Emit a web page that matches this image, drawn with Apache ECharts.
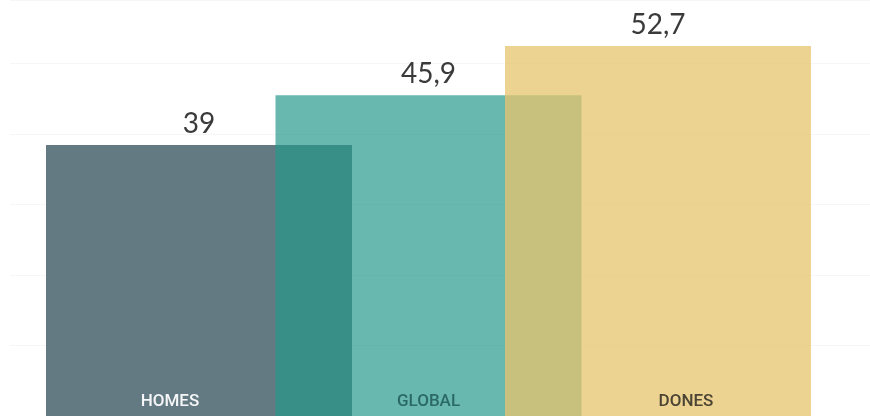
<!DOCTYPE html>
<html>
<head>
<meta charset="utf-8">
<script src="https://cdn.jsdelivr.net/npm/echarts@6/dist/echarts.min.js"></script>
<style>
  html, body { margin: 0; padding: 0; background: #fff; }
  #main { width: 870px; height: 416px; }
</style>
</head>
<body>
<div id="main"></div>
<script>
// data
const categories = ['HOMES', 'GLOBAL', 'DONES'];
const values = [39, 45.9, 52.7];
const barColors = ['rgb(100,122,131)', 'rgba(36,152,139,0.69)', 'rgba(231,196,108,0.75)'];
const nameColors = ['#f4f6f7', '#2b6a64', '#4b4434'];
const nameShift = [-29, 0, 28];

const chart = echarts.init(document.getElementById('main'), null, {renderer: 'canvas'});

const noAxis = {axisLine: {show: false}, axisTick: {show: false}, axisLabel: {show: false}};

chart.setOption({
    animation: false,
    grid: [
        // only for the faint horizontal lines, full width
        {left: 10, right: 0, top: 0, bottom: 0},
        // the bars
        {left: 84.25, right: 97.25, top: 0, bottom: 0}
    ],
    xAxis: [
        {gridIndex: 0, type: 'value', min: 0, max: 1, show: false},
        {gridIndex: 1, type: 'category', data: categories, show: false}
    ],
    yAxis: [
        Object.assign({gridIndex: 0, type: 'value', min: 0, max: 59, interval: 10,
            splitLine: {lineStyle: {color: '#f6f6f6', width: 1}}}, noAxis),
        // zero of the bars sits a little below the bottom edge
        Object.assign({gridIndex: 1, type: 'value', min: 1.5, max: 59.07,
            splitLine: {show: false}}, noAxis)
    ],
    series: [
        {
            type: 'bar',
            xAxisIndex: 1, yAxisIndex: 1,
            barWidth: 306,
            barGap: '-100%',
            clip: false,
            data: values.map((v, i) => ({
                value: v,
                itemStyle: {color: barColors[i]}
            })),
            label: {
                show: true,
                position: 'top',
                distance: 7,
                fontFamily: 'Lato',
                fontSize: 28,
                color: '#3a3a3a',
                formatter: p => String(p.value).replace('.', ',')
            }
        },
        {
            // transparent copy that only carries the category names
            type: 'bar',
            xAxisIndex: 1, yAxisIndex: 1,
            barWidth: 306,
            barGap: '-100%',
            clip: false,
            silent: true,
            itemStyle: {color: 'rgba(0,0,0,0)'},
            data: values.map((v, i) => ({
                value: v,
                label: {
                    color: nameColors[i],
                    offset: [nameShift[i], 0],
                    formatter: categories[i]
                }
            })),
            label: {
                show: true,
                position: 'insideBottom',
                distance: 17,
                fontFamily: 'Roboto',
                fontWeight: 500,
                fontSize: 17
            }
        }
    ]
});
</script>
</body>
</html>
